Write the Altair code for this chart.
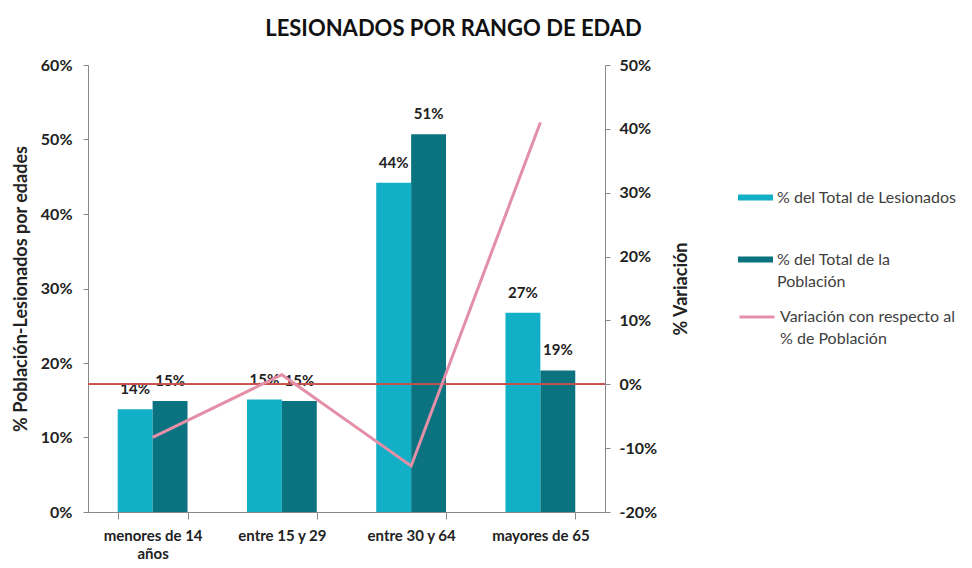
import altair as alt
import pandas as pd

categorias = ["menores de 14 años", "entre 15 y 29", "entre 30 y 64", "mayores de 65"]
lesionados = [0.138, 0.151, 0.442, 0.2675]
poblacion = [0.149, 0.149, 0.507, 0.190]
variacion = [-0.083, 0.015, -0.128, 0.41]
etiquetas_les = ["14%", "15%", "44%", "27%"]
etiquetas_pob = ["15%", "15%", "51%", "19%"]
serie_les = "% del Total de Lesionados"
serie_pob = "% del Total de la Población"
serie_var = "Variación con respecto al % de Población"

bars_df = pd.DataFrame({
    "categoria": categorias * 2,
    "serie": [serie_les] * 4 + [serie_pob] * 4,
    "valor": lesionados + poblacion,
    "etiqueta": etiquetas_les + etiquetas_pob,
})
line_df = pd.DataFrame({
    "categoria": categorias,
    "variacion": variacion,
    "serie": [serie_var] * 4,
})

FONT = "Lato"
W, H = 517, 447

x_enc = alt.X(
    "categoria:N", sort=categorias, title=None,
    scale=alt.Scale(paddingInner=0.46, paddingOuter=0.23),
    axis=alt.Axis(
        labelAngle=0, labelFont=FONT, labelFontSize=15, labelFontWeight="bold",
        labelColor="#222222", labelPadding=9, labelLineHeight=18, tickBand="extent", tickSize=7,
        domainColor="#888888", tickColor="#888888", labelLimit=200,
        labelExpr="datum.label == 'menores de 14 años' ? ['menores de 14', 'años'] : datum.label",
    ),
)
xoff = alt.XOffset("serie:N", sort=[serie_les, serie_pob],
                   scale=alt.Scale(paddingInner=0, paddingOuter=0))

y_left = alt.Y(
    "valor:Q", title="% Población-Lesionados  por edades",
    scale=alt.Scale(domain=[0, 0.6], nice=False),
    axis=alt.Axis(
        orient="left", format=".0%", values=[0, 0.1, 0.2, 0.3, 0.4, 0.5, 0.6], grid=False,
        labelFont=FONT, labelFontSize=16, labelFontWeight="bold", labelColor="#222222",
        labelPadding=11, tickSize=5, domainColor="#888888", tickColor="#888888",
        titleFont=FONT, titleFontSize=18, titleFontWeight="bold", titleColor="#222222",
        titlePadding=10,
    ),
)

bars = alt.Chart(bars_df).mark_bar().encode(
    x=x_enc,
    xOffset=xoff,
    y=y_left,
    color=alt.Color(
        "serie:N", sort=[serie_les, serie_pob],
        scale=alt.Scale(domain=[serie_les, serie_pob], range=["#12B0C6", "#0B7380"]),
        legend=alt.Legend(
            title=None, orient="none", legendX=650, legendY=115, padding=0,
            symbolType="M-1,-0.17L1,-0.17L1,0.17L-1,0.17Z", symbolSize=1225,
            symbolStrokeWidth=0, labelFont=FONT, labelFontSize=16,
            labelColor="#404040", labelOffset=4, labelLimit=300, rowPadding=36,
            labelExpr="datum.label == '% del Total de la Población' ? ['% del Total de la', 'Población'] : datum.label",
        ),
    ),
)

labels = alt.Chart(bars_df).mark_text(
    dy=-20, font=FONT, fontSize=15, fontWeight="bold", color="#222222"
).encode(
    x=x_enc, xOffset=xoff, y=y_left, text="etiqueta:N",
)

right_axis = alt.Axis(
    orient="right", format=".0%", values=[-0.2, -0.1, 0, 0.1, 0.2, 0.3, 0.4, 0.5], grid=False,
    labelExpr="replace(datum.label, '\u2212', '-')",
    labelFont=FONT, labelFontSize=16, labelFontWeight="bold", labelColor="#222222",
    labelPadding=9, tickSize=5, domainColor="#888888", tickColor="#888888",
    title="% Variación", titleAngle=270, titleFont=FONT, titleFontSize=18,
    titleFontWeight="bold", titleColor="#222222", titlePadding=34,
)
right_scale = alt.Scale(domain=[-0.2, 0.5], nice=False)

line = alt.Chart(line_df).mark_line(strokeWidth=3).encode(
    x=x_enc,
    y=alt.Y("variacion:Q", scale=right_scale, axis=right_axis),
    stroke=alt.Stroke(
        "serie:N",
        scale=alt.Scale(domain=[serie_var], range=["#E38FA8"]),
        legend=alt.Legend(
            title=None, orient="none", legendX=650, legendY=233, padding=0,
            symbolType="stroke", symbolSize=1225, symbolStrokeWidth=3,
            labelFont=FONT, labelFontSize=16, labelColor="#404040",
            labelOffset=4, labelLimit=300,
            labelExpr="['Variación con respecto al', '% de Población']",
        ),
    ),
)

zero = alt.Chart(line_df).mark_rule(color="#C8504D", strokeWidth=1.5).encode(
    y=alt.Y(datum=0, type="quantitative", scale=right_scale, axis=right_axis),
    x=alt.value(0), x2=alt.value(W),
)

left_layer = alt.layer(bars, labels)
right_layer = alt.layer(zero, line)

chart = alt.layer(left_layer, right_layer).resolve_scale(
    y="independent", color="independent"
).properties(
    width=W, height=H,
    title=alt.Title("LESIONADOS POR RANGO DE EDAD", font=FONT, fontSize=22,
                    fontWeight="bold", color="#111111", anchor="middle",
                    dx=107, offset=16),
    autosize=alt.AutoSizeParams(type="none"),
    padding={"left": 80, "top": 57, "right": 359, "bottom": 48},
).configure(
    style={"guide-label": {"lineHeight": 22}}
).configure_view(stroke=None)

chart.save("out.html", embed_options={"renderer": "svg", "actions": False})
